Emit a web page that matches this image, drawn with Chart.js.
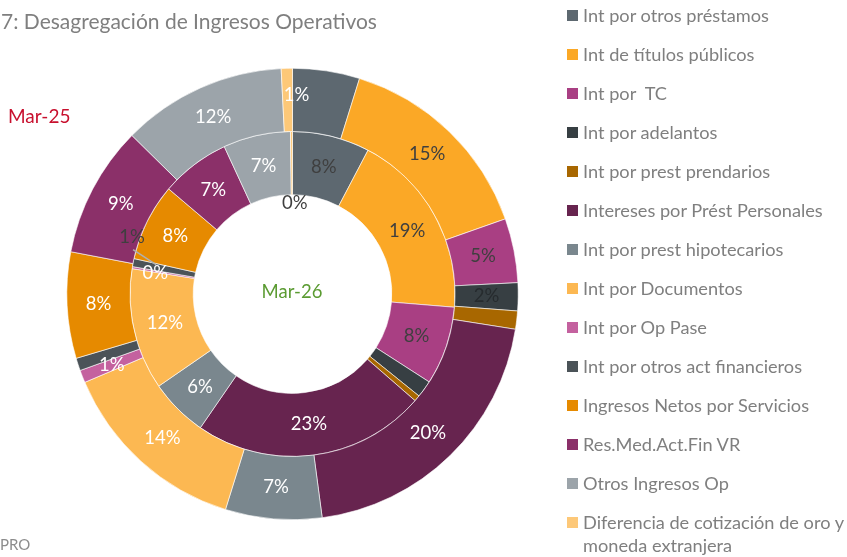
<!DOCTYPE html>
<html>
<head>
<meta charset="utf-8">
<script src="https://cdn.jsdelivr.net/npm/chart.js@4.4.1/dist/chart.umd.min.js"></script>
<style>
  body { margin: 0; background: #fff; font-family: Lato, "Open Sans", sans-serif; }
  #wrap { position: relative; width: 847px; height: 557px; overflow: hidden; }
  #chart { position: absolute; left: 0; top: 0; }
  .txt { position: absolute; white-space: pre; }
  #title { left: 1px; top: 8px; font-size: 21px; color: #7f7f7f; }
  #src { left: 0; top: 535px; font-size: 15px; color: #8c8c8c; }
  #lab25 { left: 8px; top: 104px; font-size: 19px; color: #c8102e; }
  #lab26 { left: 292px; top: 280px; font-size: 18.5px; color: #5b9b32; transform: translateX(-50%); }
  #legend { position: absolute; left: 567px; top: 0; width: 280px; }
  .item { position: absolute; left: 0; font-size: 18.2px; color: #7f7f7f; line-height: 23px; }
  .item span.sw { position: absolute; left: 0; top: 6px; width: 11px; height: 11px; }
  .item span.tx { display: block; margin-left: 16px; width: 268px; white-space: pre-wrap; }
</style>
</head>
<body>
<div id="wrap">
  <canvas id="chart" width="847" height="557"></canvas>
  <div class="txt" id="title">7: Desagregación de Ingresos Operativos</div>
  <div class="txt" id="src">PRO</div>
  <div class="txt" id="lab25">Mar-25</div>
  <div class="txt" id="lab26">Mar-26</div>
  <div id="legend"></div>
</div>
<script>
// categorias (orden de la leyenda y de los sectores, en sentido horario)
const categories = [
  'Int por otros préstamos',
  'Int de títulos públicos',
  'Int por  TC',
  'Int por adelantos',
  'Int por prest prendarios',
  'Intereses por Prést Personales',
  'Int por prest hipotecarios',
  'Int por Documentos',
  'Int por Op Pase',
  'Int por otros act financieros',
  'Ingresos Netos por Servicios',
  'Res.Med.Act.Fin VR',
  'Otros Ingresos Op',
  'Diferencia de cotización de oro y moneda extranjera'
];

const seriesNames = ['Mar-25', 'Mar-26'];

// participacion (%) aproximada
const mar25 = [4.8, 14.8, 4.6, 2.0, 1.3, 20.4, 6.9, 13.8, 0.9, 0.9, 7.6, 9.4, 11.8, 0.8];
const mar26 = [7.7, 18.6, 7.8, 1.7, 0.6, 23.2, 5.8, 12.1, 0.2, 0.8, 7.7, 6.9, 6.7, 0.2];

const colors = [
  '#5d6870', '#fba826', '#a93f83', '#373f43', '#a86700', '#67244f', '#7a878e',
  '#fcb852', '#c4619f', '#4b5358', '#e68a00', '#8b3069', '#9ca4aa', '#fdc878'
];

// color de la etiqueta por categoria
const darkText = '#3f3f3f';
const labelColors = [
  darkText, darkText, darkText, '#262b2e', '#fff', '#fff', '#fff',
  '#fff', '#fff', '#fff', '#fff', '#fff', '#fff', '#fff'
];

// leyenda html
var legend = document.getElementById('legend');
for (var i = 0; i < categories.length; i++) {
  var it = document.createElement('div');
  it.className = 'item';
  it.style.top = (15 + 39 * i - 11) + 'px';
  it.innerHTML = '<span class="sw" style="background:' + colors[i] + '"></span><span class="tx">' + categories[i] + '</span>';
  legend.appendChild(it);
}

const sliceLabels = {
  id: 'sliceLabels',
  afterDatasetsDraw(chart, args, opts) {
    var ctx = chart.ctx;
    ctx.save();
    ctx.font = '18.5px Lato';
    ctx.textAlign = 'center';
    ctx.textBaseline = 'middle';
    chart.data.datasets.forEach(function (ds, di) {
      var meta = chart.getDatasetMeta(di);
      var total = ds.data.reduce(function (a, b) { return a + b; }, 0);
      meta.data.forEach(function (arc, i) {
        var key = di + ':' + i;
        if (opts.hidden.indexOf(key) >= 0) return;
        var p = arc.tooltipPosition();
        var off = opts.offsets[key] || [0, 0];
        var x = p.x + off[0], y = p.y + off[1];
        if (opts.leaders.indexOf(key) >= 0) {
          ctx.strokeStyle = '#b0b0b0';
          ctx.lineWidth = 1.5;
          ctx.beginPath();
          ctx.moveTo(x + 1, y + 13);
          ctx.lineTo(p.x - 8, p.y - 4);
          ctx.stroke();
        }
        ctx.fillStyle = opts.colors[key] || labelColors[i];
        ctx.fillText(Math.round(ds.data[i] / total * 100) + '%', x, y);
      });
    });
    ctx.restore();
  }
};

new Chart(document.getElementById('chart'), {
  type: 'doughnut',
  data: {
    labels: categories,
    datasets: [
      { label: seriesNames[0], data: mar25, backgroundColor: colors, borderColor: '#ffffff', borderWidth: 0.6 },
      { label: seriesNames[1], data: mar26, backgroundColor: colors, borderColor: '#ffffff', borderWidth: 0.6 }
    ]
  },
  options: {
    responsive: false,
    animation: false,
    cutout: '44%',
    layout: { padding: { left: 66.5, right: 328.5, top: 68, bottom: 37 } },
    plugins: {
      legend: { display: false },
      tooltip: { enabled: false },
      sliceLabels: {
        hidden: ['0:0', '0:4', '0:9', '1:3', '1:4'],
        offsets: { '0:13': [9, -5], '1:13': [3, 40], '1:8': [-8, 0], '1:9': [-32, -32] },
        leaders: ['1:9'],
        colors: { '1:13': darkText, '1:9': darkText }
      }
    }
  },
  plugins: [sliceLabels]
});
</script>
</body>
</html>
